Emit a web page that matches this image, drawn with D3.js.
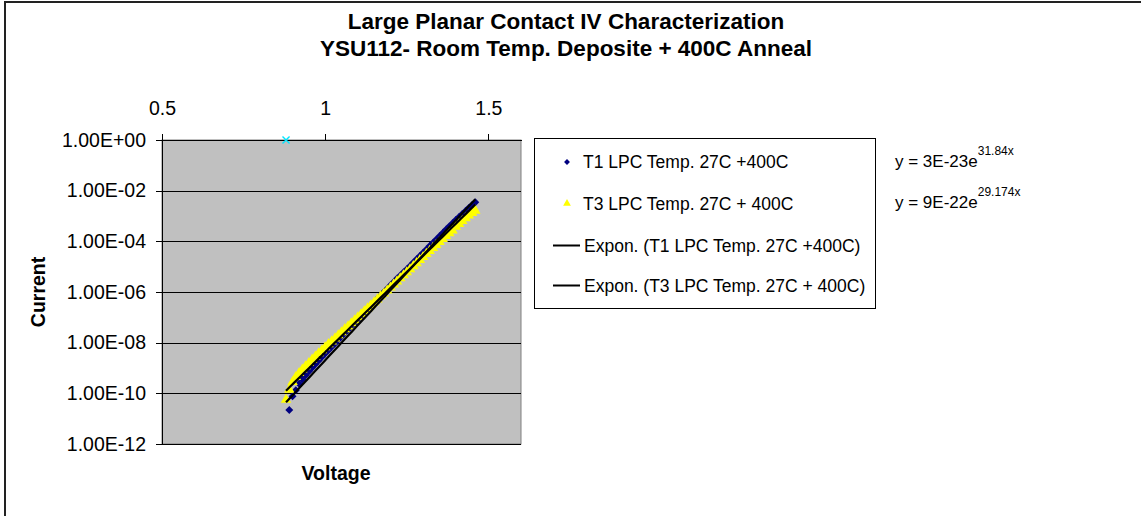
<!DOCTYPE html>
<html>
<head>
<meta charset="utf-8">
<script src="https://cdn.jsdelivr.net/npm/d3@7"></script>
<style>
  html, body { margin: 0; padding: 0; background: #fff; }
  svg { display: block; font-family: "Liberation Sans", Arial, sans-serif; }
</style>
</head>
<body>
<svg id="chart" width="1141" height="516"></svg>
<script>
// ---------------- DATA ----------------
const titleLines = ["Large Planar Contact IV Characterization", "YSU112- Room Temp. Deposite + 400C Anneal"];
const xAxisTitle = "Voltage";
const yAxisTitle = "Current";

const xTickValues = [0.5, 1, 1.5];
const xTickLabels = ["0.5", "1", "1.5"];
const yTickValues = [1, 1e-2, 1e-4, 1e-6, 1e-8, 1e-10, 1e-12];
const yTickLabels = ["1.00E+00", "1.00E-02", "1.00E-04", "1.00E-06", "1.00E-08", "1.00E-10", "1.00E-12"];

// T1 LPC Temp. 27C +400C (dark blue diamonds)
const t1Voltage = [0.89,0.90,0.91,0.92,0.93,0.94,0.95,0.96,0.97,0.98,0.99,1.00,1.01,1.02,1.03,1.04,1.05,1.06,1.07,1.08,1.09,1.10,1.11,1.12,1.13,1.14,1.15,1.16,1.17,1.18,1.19,1.20,1.21,1.22,1.23,1.24,1.25,1.26,1.27,1.28,1.29,1.30,1.31,1.32,1.33,1.34,1.35,1.36,1.37,1.38,1.39,1.40,1.41,1.42,1.43,1.44,1.45,1.46];
const t1Current = [2.2e-11,7.6e-11,1.32e-10,2.4e-10,3.5e-10,5.1e-10,7.2e-10,1.02e-9,1.41e-9,1.95e-9,2.7e-9,3.7e-9,5.0e-9,6.9e-9,9.3e-9,1.29e-8,1.74e-8,2.4e-8,3.2e-8,4.5e-8,6.0e-8,8.3e-8,1.12e-7,1.55e-7,2.1e-7,2.9e-7,3.9e-7,5.4e-7,7.2e-7,1.0e-6,1.35e-6,1.86e-6,2.5e-6,3.4e-6,4.5e-6,6.0e-6,7.9e-6,1.07e-5,1.45e-5,1.95e-5,2.63e-5,3.55e-5,4.8e-5,6.5e-5,8.7e-5,1.17e-4,1.58e-4,2.14e-4,2.9e-4,3.9e-4,5.2e-4,6.9e-4,9.1e-4,1.2e-3,1.58e-3,2.1e-3,2.7e-3,3.5e-3];

// T3 LPC Temp. 27C + 400C (yellow triangles)
const t3Voltage = [0.88,0.89,0.90,0.91,0.92,0.93,0.94,0.95,0.96,0.97,0.98,0.99,1.00,1.01,1.02,1.03,1.04,1.05,1.06,1.07,1.08,1.09,1.10,1.11,1.12,1.13,1.14,1.15,1.16,1.17,1.18,1.19,1.20,1.21,1.22,1.23,1.24,1.25,1.26,1.27,1.28,1.29,1.30,1.31,1.32,1.33,1.34,1.35,1.36,1.37,1.38,1.39,1.40,1.41,1.42,1.43,1.44,1.45,1.46];
const t3Current = [5.6e-11,1.4e-10,2.8e-10,4.4e-10,6.3e-10,8.7e-10,1.17e-9,1.58e-9,2.14e-9,2.82e-9,3.8e-9,5.0e-9,6.6e-9,8.7e-9,1.12e-8,1.48e-8,1.95e-8,2.57e-8,3.4e-8,4.4e-8,5.8e-8,7.6e-8,1.0e-7,1.32e-7,1.74e-7,2.29e-7,3.0e-7,3.9e-7,5.1e-7,6.8e-7,8.7e-7,1.15e-6,1.51e-6,2.0e-6,2.63e-6,3.5e-6,4.6e-6,6.0e-6,7.9e-6,1.05e-5,1.38e-5,1.82e-5,2.4e-5,3.2e-5,4.2e-5,5.5e-5,7.2e-5,9.5e-5,1.23e-4,1.62e-4,2.1e-4,2.7e-4,3.8e-4,4.9e-4,6.3e-4,8.1e-4,1.05e-3,1.32e-3,1.62e-3];

// stray third series point (cyan x)
const extraVoltage = [0.88];
const extraCurrent = [1];

// exponential trendlines y = a * e^(b x)
const trendNames = ["Expon. (T1 LPC Temp. 27C +400C)", "Expon. (T3 LPC Temp. 27C + 400C)"];
const trendA = [3e-23, 9e-22];
const trendB = [31.84, 29.174];
const trendALabel = ["3E-23", "9E-22"];
const trendBLabel = ["31.84", "29.174"];

const legendLabels = ["T1 LPC Temp. 27C +400C", "T3 LPC Temp. 27C + 400C", trendNames[0], trendNames[1]];

// ---------------- CHART ----------------
const svg = d3.select("#chart");
const W = 1141, H = 516;
const plot = { left: 162, right: 521, top: 140, bottom: 444 };

svg.append("rect").attr("x", 0).attr("y", 0).attr("width", W).attr("height", H).attr("fill", "#fff");
svg.append("path").attr("d", `M5,${H} V2 H${W}`).attr("fill", "none").attr("stroke", "#222").attr("stroke-width", 2);

svg.append("text").attr("x", 566).attr("y", 29).attr("text-anchor", "middle")
  .attr("font-size", 22.5).attr("font-weight", "bold").text(titleLines[0]);
svg.append("text").attr("x", 566).attr("y", 56).attr("text-anchor", "middle")
  .attr("font-size", 22.5).attr("font-weight", "bold").text(titleLines[1]);

const x = d3.scaleLinear().domain([0.5, 1.6]).range([plot.left, plot.right]);
const y = d3.scaleLog().domain([1e-12, 1]).range([plot.bottom, plot.top]);

svg.append("rect").attr("x", plot.left).attr("y", plot.top)
  .attr("width", plot.right - plot.left).attr("height", plot.bottom - plot.top)
  .attr("fill", "#C0C0C0").attr("stroke", "#808080").attr("stroke-width", 1);

const grid = svg.append("g").attr("transform", `translate(${plot.left},0)`)
  .call(d3.axisLeft(y).tickValues(yTickValues).tickSize(-(plot.right - plot.left)).tickFormat(""));
grid.select(".domain").remove();
grid.selectAll("line").attr("stroke", "#000").attr("stroke-width", 1).attr("shape-rendering", "crispEdges");

const yAxis = svg.append("g").attr("transform", `translate(${plot.left},0)`)
  .call(d3.axisLeft(y).tickValues(yTickValues).tickSize(6).tickSizeOuter(0).tickPadding(10)
    .tickFormat((d, i) => yTickLabels[i]));
yAxis.selectAll("text").attr("font-size", 19.5).attr("fill", "#000").attr("font-family", "Liberation Sans, Arial, sans-serif");
yAxis.selectAll("line, path").attr("stroke", "#000").attr("shape-rendering", "crispEdges");

const xAxis = svg.append("g").attr("transform", `translate(0,${plot.top})`)
  .call(d3.axisTop(x).tickValues(xTickValues).tickSize(6).tickSizeOuter(0).tickPadding(19)
    .tickFormat((d, i) => xTickLabels[i]));
xAxis.selectAll("text").attr("font-size", 19.5).attr("fill", "#000").attr("font-family", "Liberation Sans, Arial, sans-serif");
xAxis.selectAll("line, path").attr("stroke", "#000").attr("shape-rendering", "crispEdges");

svg.append("text").attr("x", 336).attr("y", 480).attr("text-anchor", "middle")
  .attr("font-size", 19.5).attr("font-weight", "bold").text(xAxisTitle);
svg.append("text").attr("transform", "translate(45,292) rotate(-90)").attr("text-anchor", "middle")
  .attr("font-size", 19.5).attr("font-weight", "bold").text(yAxisTitle);

const t1 = t1Voltage.map((v, i) => ({ v, c: t1Current[i] }));
const t3 = t3Voltage.map((v, i) => ({ v, c: t3Current[i] }));
const extra = extraVoltage.map((v, i) => ({ v, c: extraCurrent[i] }));

const diamond = d3.symbol().type(d3.symbolDiamond2).size(40);
const triangle = d3.symbol().type(d3.symbolTriangle).size(48);

svg.append("g").selectAll("path").data(t1).join("path")
  .attr("d", diamond).attr("transform", d => `translate(${x(d.v)},${y(d.c)})`)
  .attr("fill", "#000080");

svg.append("g").selectAll("path").data(t3).join("path")
  .attr("d", triangle).attr("transform", d => `translate(${x(d.v)},${y(d.c)})`)
  .attr("fill", "#FFFF00");

svg.append("g").selectAll("path").data(extra).join("path")
  .attr("d", d3.symbol().type(d3.symbolX).size(34)).attr("transform", d => `translate(${x(d.v)},${y(d.c)})`)
  .attr("fill", "none").attr("stroke", "#00E5FF").attr("stroke-width", 1.4);

const trendRange = d3.extent(t3Voltage.concat(t1Voltage));
const line = d3.line().x(d => x(d.v)).y(d => y(d.c));
trendA.forEach((a, k) => {
  const [v0, v1] = trendRange;
  const pts = d3.range(0, 41).map(j => {
    const v = v0 + (v1 - v0) * j / 40;
    return { v, c: a * Math.exp(trendB[k] * v) };
  });
  svg.append("path").datum(pts).attr("d", line)
    .attr("fill", "none").attr("stroke", "#000").attr("stroke-width", 2.2);
});

const lg = svg.append("g");
lg.append("rect").attr("x", 534.5).attr("y", 138.5).attr("width", 341).attr("height", 170)
  .attr("fill", "#fff").attr("stroke", "#000").attr("stroke-width", 1);
const rowY = [162, 203.5, 245.5, 285.5];
lg.append("path").attr("d", d3.symbol().type(d3.symbolDiamond2).size(22))
  .attr("transform", `translate(567,${rowY[0]})`).attr("fill", "#000080");
lg.append("path").attr("d", d3.symbol().type(d3.symbolTriangle).size(26))
  .attr("transform", `translate(567,${rowY[1]})`).attr("fill", "#FFFF00");
[2, 3].forEach(r => {
  lg.append("line").attr("x1", 553).attr("x2", 580).attr("y1", rowY[r]).attr("y2", rowY[r])
    .attr("stroke", "#000").attr("stroke-width", 2);
});
legendLabels.forEach((t, r) => {
  lg.append("text").attr("x", r < 2 ? 583 : 584).attr("y", rowY[r] + 6)
    .attr("font-size", 17.5).attr("fill", "#000").text(t);
});

const eqY = [167, 208];
trendALabel.forEach((a, k) => {
  const t = svg.append("text").attr("x", 895).attr("y", eqY[k]).attr("font-size", 17).attr("fill", "#000");
  t.append("tspan").text(`y = ${a}e`);
  t.append("tspan").attr("dy", -12).attr("font-size", 12).text(`${trendBLabel[k]}x`);
});
</script>
</body>
</html>
